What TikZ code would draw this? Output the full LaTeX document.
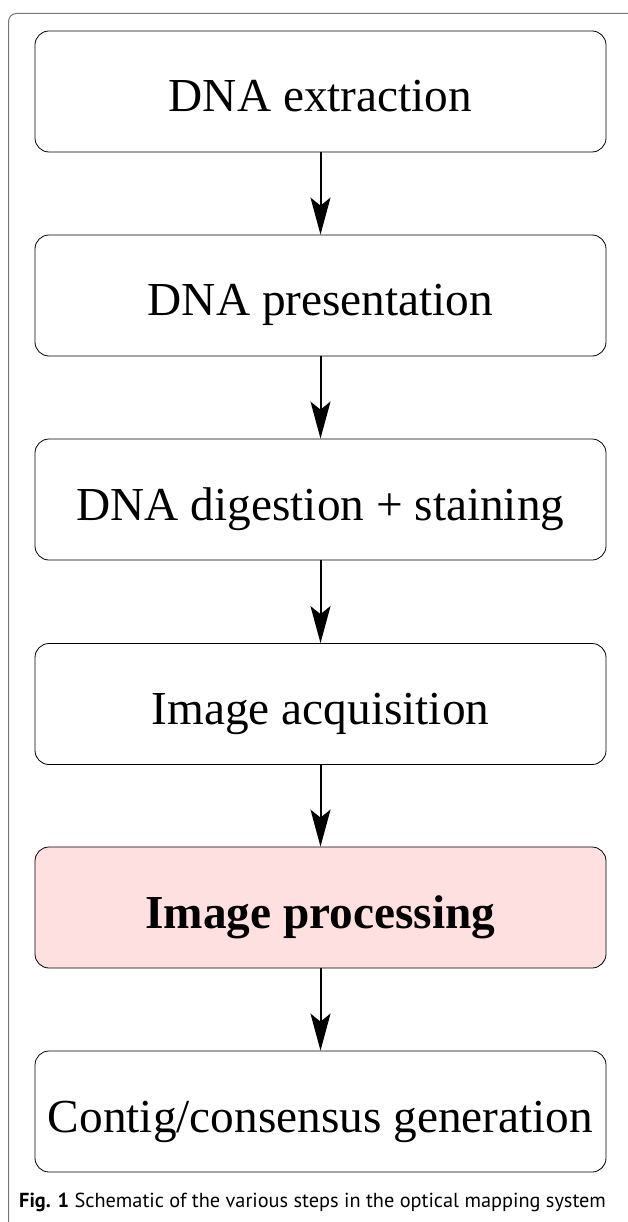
\documentclass[tikz,border=0pt]{standalone}
\usepackage{fontspec}
\setmainfont{Liberation Serif}
\newfontfamily\capfont{PT Sans}
\usetikzlibrary{arrows.meta}
\definecolor{pinkfill}{RGB}{255,224,224}
\definecolor{framegray}{RGB}{120,120,120}
\tikzset{
  stepbox/.style={draw=black, line width=0.8pt, rounded corners=14pt, minimum width=571pt, minimum height=121pt, inner sep=0pt, text height=41pt, text depth=0pt, font=\fontsize{47.3}{55}\selectfont, fill=white},
  hibox/.style={stepbox, fill=pinkfill, font=\fontsize{47.3}{55}\selectfont\bfseries},
  flow/.style={line width=2pt, -{Stealth[length=37pt,width=20pt,inset=8pt]}}
}
\begin{document}
\begin{tikzpicture}[x=1pt,y=-1pt]
\useasboundingbox (0,0) rectangle (627,1222);
\draw[framegray, line width=1pt, rounded corners=8pt] (8.5,1222) -- (8.5,13.5) -- (640,13.5);
\node[stepbox] (a) at (320.5,91.5) {DNA extraction};
\node[stepbox] (b) at (320.5,295.5) {DNA presentation};
\node[stepbox] (c) at (320.5,499.5) {DNA digestion + staining};
\node[stepbox] (d) at (320.5,704) {Image acquisition};
\node[hibox] (e) at (320.5,907.5) {Image processing};
\node[stepbox] (f) at (320.5,1111.5) {Contig/consensus generation};
\draw[flow] (a) -- (b);
\draw[flow] (b) -- (c);
\draw[flow] (c) -- (d);
\draw[flow] (d) -- (e);
\draw[flow] (e) -- (f);
\node[anchor=base west, inner sep=0pt, font=\capfont\fontsize{20.3}{24}\selectfont] (cap) at (19,1207) {\textbf{Fig. 1} Schematic of the various steps in the optical mapping system};
\end{tikzpicture}
\end{document}
